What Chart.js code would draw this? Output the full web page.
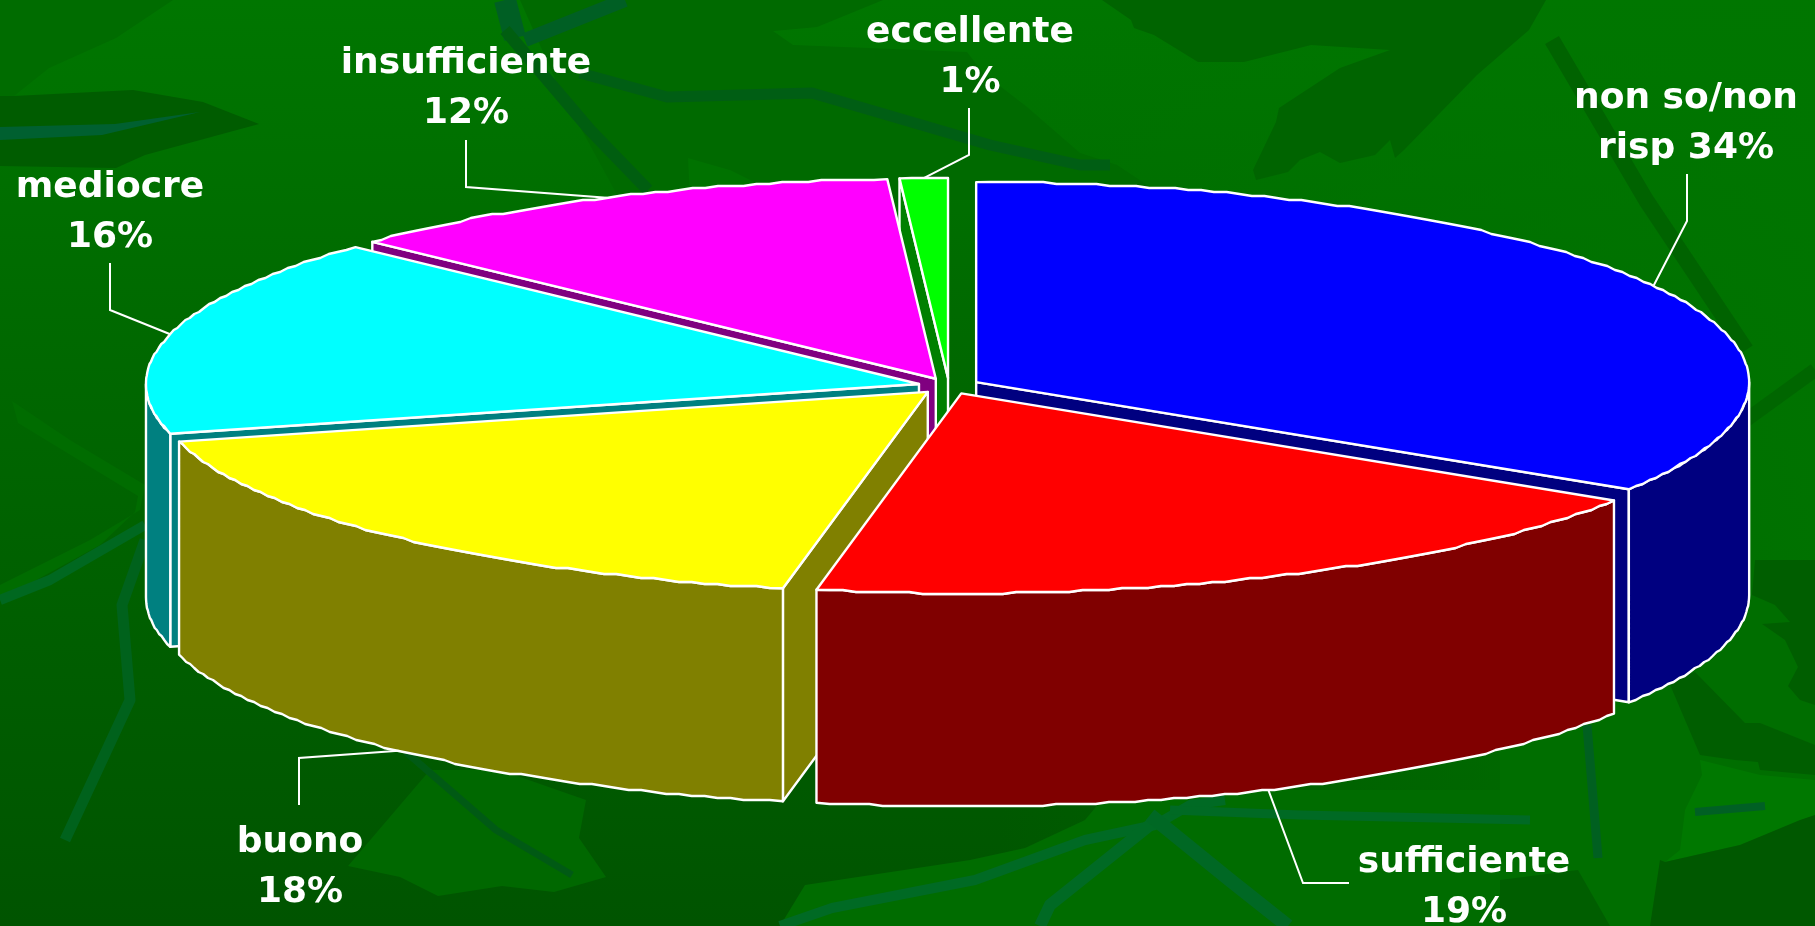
<!DOCTYPE html>
<html>
<head>
<meta charset="utf-8">
<title>Giudizio</title>
<style>html,body{margin:0;padding:0;background:#006400;overflow:hidden}canvas{display:block}</style>
<script src="https://cdn.jsdelivr.net/npm/chart.js@4"></script>
</head>
<body>
<canvas id="c" width="1815" height="926"></canvas>
<script>
const categories = ['non so/non risp','sufficiente','buono','mediocre','insufficiente','eccellente'];
const values = [34,19,18,16,12,1];
const topColors = ['#0000ff','#ff0000','#ffff00','#00ffff','#ff00ff','#00ff00'];
const sideColors = ['#000080','#800000','#808000','#008080','#800080','#008000'];
const labelFirstLines = ['non so/non','sufficiente','buono','mediocre','insufficiente','eccellente'];
const labelValuePrefix = ['risp ','','','','',''];
const labelCenters = [[1686,108],[1464,872],[300,852],[110,197],[466,73],[970,42]];
const leaderElbows = [[[1687,174],[1687,221]],[[1349,883],[1303,883]],[[299,805],[299,758]],[[110,263],[110,310]],[[466,140],[466,187]],[[969,108],[969,155]]];

const TILT = 200/773, DEPTH = 213, EXPLODE = 31, RADIUS = 773, JAG_Y = 2;

const bgShapes = [
 ['#006c00',[[0,0],[173,0],[116,38],[49,68],[14,96],[0,96]]],
 ['#005c00',[[0,96],[14,96],[133,90],[203,102],[259,124],[145,155],[116,168],[0,166]]],
 ['#006030',[[0,127],[115,124],[200,112],[102,135],[0,140]]],
 ['#006a00',[[520,0],[883,0],[817,27],[773,31],[793,45],[967,52],[983,73],[1027,107],[1080,153],[1117,165],[1170,200],[620,200],[560,90]]],
 ['#006400',[[1102,0],[1131,20],[1134,28],[1154,35],[1198,62],[1244,62],[1311,45],[1390,50],[1340,68],[1279,108],[1276,122],[1253,170],[1256,180],[1288,172],[1300,160],[1320,152],[1340,163],[1375,155],[1390,140],[1395,158],[1404,150],[1477,75],[1529,30],[1546,0]]],
 ['#007200',[[688,158],[730,170],[760,185],[690,200]]],
 ['#006c00',[[12,401],[18,423],[138,496],[135,512],[100,545],[0,600],[0,585],[90,540],[140,510],[145,485],[70,440]]],
 ['#006e00',[[1500,560],[1815,560],[1815,926],[1500,926]]],
 ['#005e00',[[1755,560],[1815,560],[1815,705],[1800,700],[1788,686],[1798,667],[1785,640],[1762,624],[1790,622],[1775,605],[1752,595]]],
 ['#005e00',[[1668,680],[1700,755],[1735,760],[1758,762],[1760,770],[1815,775],[1815,745],[1760,723],[1745,723],[1695,672]]],
 ['#007800',[[1700,760],[1760,775],[1815,780],[1815,815],[1740,845],[1665,862],[1680,850],[1685,810],[1702,775]]],
 ['#005800',[[1650,926],[1660,860],[1665,862],[1740,845],[1800,820],[1815,815],[1815,926]]],
 ['#005e00',[[1500,880],[1578,870],[1610,926],[1500,926]]],
 ['#006c00',[[780,926],[805,885],[970,860],[1025,848],[1085,820],[1110,790],[1500,790],[1500,926]]],
 ['#006800',[[348,866],[400,877],[438,896],[502,886],[554,892],[606,877],[579,838],[586,800],[500,770],[430,770]]]
];
const bgVeins = [
 ['#006020',9,[[1587,725],[1598,858]]],
 ['#005f24',22,[[505,0],[515,38]]],
 ['#005f24',14,[[625,0],[525,40]]],
 ['#005e10',12,[[505,30],[590,130],[648,190]]],
 ['#005e14',11,[[580,73],[667,97],[812,93],[990,145],[1080,165],[1110,165]]],
 ['#006300',16,[[1552,40],[1646,200],[1746,350]]],
 ['#006600',14,[[1815,370],[1746,420]]],
 ['#006820',10,[[0,600],[50,580],[145,525]]],
 ['#00621c',11,[[145,540],[122,605],[130,700],[65,840]]],
 ['#005a14',7,[[406,752],[496,830],[572,875]]],
 ['#006a24',10,[[780,926],[832,908],[975,880],[1085,840],[1155,825],[1190,805],[1225,800]]],
 ['#006a24',12,[[1040,926],[1050,905],[1150,825]]],
 ['#006824',14,[[1150,815],[1230,880],[1288,926]]],
 ['#006a24',9,[[1170,810],[1300,815],[1530,820]]],
 ['#006024',8,[[1695,812],[1765,806]]]
];

// rim sampled into short stepped segments, as in the original slide's polygon outline
function rim(ctx,cx,cy,rx,ry,a0,a1){
 const n=Math.max(2,Math.ceil(Math.abs(a1-a0)/(Math.PI/180)));
 for(let k=0;k<=n;k++){
  const t=a0+(a1-a0)*k/n;
  const onEnd=(k===0||k===n);
  const x=cx+rx*Math.cos(t);
  let y=cy+ry*Math.sin(t);
  if(!onEnd) y=Math.round(y/JAG_Y)*JAG_Y;
  ctx.lineTo(x,y);
 }
}

const pie3d = {
 id:'pie3d',
 beforeDraw(chart){
  const ctx=chart.ctx; ctx.save();
  const g=ctx.createLinearGradient(0,0,0,926);
  g.addColorStop(0,'#007600'); g.addColorStop(0.45,'#006600'); g.addColorStop(1,'#005400');
  ctx.fillStyle=g; ctx.fillRect(0,0,1815,926);
  const g2=ctx.createLinearGradient(1000,0,1815,0);
  g2.addColorStop(0,'rgba(0,118,0,0)'); g2.addColorStop(1,'rgba(0,118,0,0.8)');
  ctx.fillStyle=g2; ctx.fillRect(1000,0,815,926);
  for(const [col,pts] of bgShapes){ ctx.fillStyle=col; ctx.beginPath(); pts.forEach((p,i)=>i?ctx.lineTo(p[0],p[1]):ctx.moveTo(p[0],p[1])); ctx.closePath(); ctx.fill(); }
  ctx.lineJoin='round';
  for(const [col,w,pts] of bgVeins){ ctx.strokeStyle=col; ctx.lineWidth=w; ctx.beginPath(); pts.forEach((p,i)=>i?ctx.lineTo(p[0],p[1]):ctx.moveTo(p[0],p[1])); ctx.stroke(); }
  ctx.restore();
 },
 beforeDatasetsDraw(chart){
  const ctx=chart.ctx, arcs=chart.getDatasetMeta(0).data;
  const items=arcs.map((a,i)=>{
   const mid=(a.startAngle+a.endAngle)/2;
   return {i,a0:a.startAngle,a1:a.endAngle,mid,R:a.outerRadius,ry:a.outerRadius*TILT,
     cx:a.x+Math.cos(mid)*EXPLODE, cy:a.y+Math.sin(mid)*EXPLODE*TILT};
  });
  const order=items.slice().sort((p,q)=>Math.sin(p.mid)-Math.sin(q.mid));
  ctx.save(); ctx.lineWidth=2.4; ctx.strokeStyle='#ffffff'; ctx.lineJoin='round';
  for(const s of order){
   const pt=a=>[s.cx+s.R*Math.cos(a), s.cy+s.ry*Math.sin(a)];
   ctx.fillStyle=sideColors[s.i];
   const wall=(a)=>{ const p=pt(a); ctx.beginPath(); ctx.moveTo(s.cx,s.cy); ctx.lineTo(p[0],p[1]); ctx.lineTo(p[0],p[1]+DEPTH); ctx.lineTo(s.cx,s.cy+DEPTH); ctx.closePath(); ctx.fill(); ctx.stroke(); };
   if(Math.cos(s.a0)<-1e-6) wall(s.a0);
   if(Math.cos(s.a1)>1e-6) wall(s.a1);
   const ranges=[[s.a0,s.a1],[s.a0-2*Math.PI,s.a1-2*Math.PI],[s.a0+2*Math.PI,s.a1+2*Math.PI]];
   for(const [r0,r1] of ranges){
    const from=Math.max(r0,0), to=Math.min(r1,Math.PI);
    if(to>from){
     ctx.beginPath(); rim(ctx,s.cx,s.cy,s.R,s.ry,from,to);
     rim(ctx,s.cx,s.cy+DEPTH,s.R,s.ry,to,from); ctx.closePath(); ctx.fill(); ctx.stroke();
    }
   }
   ctx.fillStyle=topColors[s.i];
   ctx.beginPath(); ctx.moveTo(s.cx,s.cy); rim(ctx,s.cx,s.cy,s.R,s.ry,s.a0,s.a1); ctx.closePath(); ctx.fill(); ctx.stroke();
  }
  ctx.lineWidth=2; ctx.lineJoin='miter';
  for(const s of items){
   const e=leaderElbows[s.i];
   const ex=s.cx+s.R*Math.cos(s.mid), ey=s.cy+s.ry*Math.sin(s.mid)+(Math.sin(s.mid)>0.3?DEPTH:0);
   ctx.beginPath(); ctx.moveTo(e[0][0],e[0][1]); ctx.lineTo(e[1][0],e[1][1]); ctx.lineTo(ex,ey); ctx.stroke();
  }
  ctx.fillStyle='#ffffff'; ctx.textAlign='center'; ctx.textBaseline='alphabetic';
  ctx.font='bold 36px "DejaVu Sans"';
  values.forEach((v,i)=>{
   const [x,y]=labelCenters[i];
   ctx.fillText(labelFirstLines[i],x,y);
   ctx.fillText(labelValuePrefix[i]+v+'%',x,y+50);
  });
  ctx.restore();
  return false;
 }
};

new Chart(document.getElementById('c'),{
 type:'pie',
 data:{labels:categories,datasets:[{data:values,backgroundColor:topColors,borderColor:'#ffffff',borderWidth:2}]},
 options:{
  responsive:false,animation:false,radius:RADIUS,
  layout:{padding:{left:83,top:0,right:0,bottom:154}},
  plugins:{legend:{display:false},tooltip:{enabled:false}}
 },
 plugins:[pie3d]
});
</script>
</body>
</html>
